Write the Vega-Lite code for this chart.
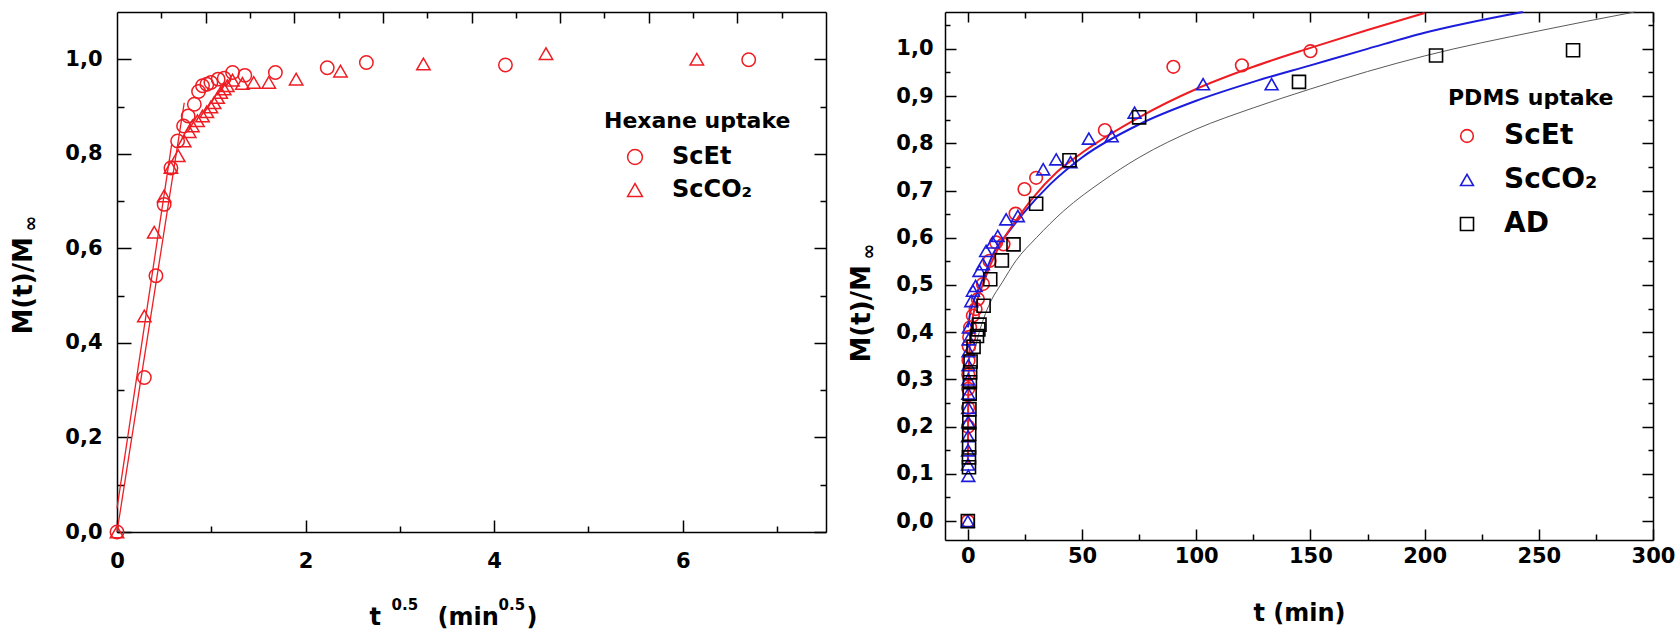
{
  "$schema": "https://vega.github.io/schema/vega-lite/v6.json",
  "background": "white",
  "padding": {"left": 10, "top": 8, "right": 0, "bottom": 0},
  "spacing": 21,
  "config": {
    "font": "DejaVu Sans",
    "view": {"stroke": null},
    "axis": {
      "grid": false,
      "labelFont": "DejaVu Sans", "labelFontWeight": "bold", "labelFontSize": 21, "labelColor": "#000",
      "titleFont": "DejaVu Sans", "titleFontWeight": "bold", "titleFontSize": 23, "titleColor": "#000",
      "tickColor": "#000", "tickWidth": 1.5, "domainColor": "#000", "domainWidth": 1.5,
      "labelOverlap": false, "labelFlush": false, "labelBound": false
    },
    "legend": {
      "titleFont": "DejaVu Sans", "titleFontWeight": "bold", "titleColor": "#000", "titleLimit": 500,
      "labelFont": "DejaVu Sans", "labelFontWeight": "bold", "labelColor": "#000", "labelLimit": 300,
      "padding": 0
    }
  },
  "datasets": {
    "hexPts": [
      {"x": 0, "y": 0, "series": "ScEt"},
      {"x": 0.29, "y": 0.327, "series": "ScEt"},
      {"x": 0.413, "y": 0.542, "series": "ScEt"},
      {"x": 0.5, "y": 0.693, "series": "ScEt"},
      {"x": 0.572, "y": 0.77, "series": "ScEt"},
      {"x": 0.643, "y": 0.827, "series": "ScEt"},
      {"x": 0.706, "y": 0.859, "series": "ScEt"},
      {"x": 0.755, "y": 0.88, "series": "ScEt"},
      {"x": 0.82, "y": 0.905, "series": "ScEt"},
      {"x": 0.865, "y": 0.932, "series": "ScEt"},
      {"x": 0.907, "y": 0.944, "series": "ScEt"},
      {"x": 0.953, "y": 0.947, "series": "ScEt"},
      {"x": 0.996, "y": 0.951, "series": "ScEt"},
      {"x": 1.073, "y": 0.958, "series": "ScEt"},
      {"x": 1.137, "y": 0.96, "series": "ScEt"},
      {"x": 1.226, "y": 0.972, "series": "ScEt"},
      {"x": 1.356, "y": 0.966, "series": "ScEt"},
      {"x": 1.68, "y": 0.972, "series": "ScEt"},
      {"x": 2.23, "y": 0.982, "series": "ScEt"},
      {"x": 2.645, "y": 0.993, "series": "ScEt"},
      {"x": 4.12, "y": 0.988, "series": "ScEt"},
      {"x": 6.7, "y": 0.999, "series": "ScEt"},
      {"x": 0, "y": 0, "series": "ScCO₂"},
      {"x": 0.29, "y": 0.457, "series": "ScCO₂"},
      {"x": 0.395, "y": 0.634, "series": "ScCO₂"},
      {"x": 0.5, "y": 0.711, "series": "ScCO₂"},
      {"x": 0.572, "y": 0.771, "series": "ScCO₂"},
      {"x": 0.65, "y": 0.796, "series": "ScCO₂"},
      {"x": 0.713, "y": 0.827, "series": "ScCO₂"},
      {"x": 0.766, "y": 0.847, "series": "ScCO₂"},
      {"x": 0.8, "y": 0.859, "series": "ScCO₂"},
      {"x": 0.854, "y": 0.87, "series": "ScCO₂"},
      {"x": 0.907, "y": 0.88, "series": "ScCO₂"},
      {"x": 0.953, "y": 0.889, "series": "ScCO₂"},
      {"x": 0.996, "y": 0.899, "series": "ScCO₂"},
      {"x": 1.03, "y": 0.908, "series": "ScCO₂"},
      {"x": 1.067, "y": 0.919, "series": "ScCO₂"},
      {"x": 1.1, "y": 0.93, "series": "ScCO₂"},
      {"x": 1.137, "y": 0.937, "series": "ScCO₂"},
      {"x": 1.17, "y": 0.944, "series": "ScCO₂"},
      {"x": 1.225, "y": 0.956, "series": "ScCO₂"},
      {"x": 1.33, "y": 0.949, "series": "ScCO₂"},
      {"x": 1.45, "y": 0.951, "series": "ScCO₂"},
      {"x": 1.61, "y": 0.951, "series": "ScCO₂"},
      {"x": 1.9, "y": 0.958, "series": "ScCO₂"},
      {"x": 2.37, "y": 0.975, "series": "ScCO₂"},
      {"x": 3.25, "y": 0.99, "series": "ScCO₂"},
      {"x": 4.55, "y": 1.012, "series": "ScCO₂"},
      {"x": 6.15, "y": 1.0, "series": "ScCO₂"}
    ],
    "hexFit": [
      {"x": 0, "y": 0.0, "series": "ScEt"},
      {"x": 0.713, "y": 0.908, "series": "ScEt"},
      {"x": 0, "y": 0.05, "series": "ScCO₂"},
      {"x": 0.58, "y": 0.82, "series": "ScCO₂"}
    ],
    "pdmsPts": [
      {"t": 0, "y": 0, "series": "ScEt"},
      {"t": 0.1, "y": 0.2, "series": "ScEt"},
      {"t": 0.1, "y": 0.24, "series": "ScEt"},
      {"t": 0.15, "y": 0.28, "series": "ScEt"},
      {"t": 0.2, "y": 0.31, "series": "ScEt"},
      {"t": 0.3, "y": 0.34, "series": "ScEt"},
      {"t": 0.4, "y": 0.37, "series": "ScEt"},
      {"t": 0.6, "y": 0.39, "series": "ScEt"},
      {"t": 1.0, "y": 0.41, "series": "ScEt"},
      {"t": 2.2, "y": 0.435, "series": "ScEt"},
      {"t": 3.4, "y": 0.449, "series": "ScEt"},
      {"t": 4.4, "y": 0.47, "series": "ScEt"},
      {"t": 6.6, "y": 0.502, "series": "ScEt"},
      {"t": 9.5, "y": 0.551, "series": "ScEt"},
      {"t": 12.4, "y": 0.59, "series": "ScEt"},
      {"t": 15.6, "y": 0.586, "series": "ScEt"},
      {"t": 20.9, "y": 0.651, "series": "ScEt"},
      {"t": 24.8, "y": 0.703, "series": "ScEt"},
      {"t": 29.9, "y": 0.727, "series": "ScEt"},
      {"t": 60, "y": 0.828, "series": "ScEt"},
      {"t": 90, "y": 0.962, "series": "ScEt"},
      {"t": 120, "y": 0.965, "series": "ScEt"},
      {"t": 150, "y": 0.995, "series": "ScEt"},
      {"t": 0, "y": 0, "series": "ScCO₂"},
      {"t": 0.2, "y": 0.096, "series": "ScCO₂"},
      {"t": 0.1, "y": 0.12, "series": "ScCO₂"},
      {"t": 0.1, "y": 0.15, "series": "ScCO₂"},
      {"t": 0.1, "y": 0.18, "series": "ScCO₂"},
      {"t": 0.15, "y": 0.21, "series": "ScCO₂"},
      {"t": 0.15, "y": 0.24, "series": "ScCO₂"},
      {"t": 0.2, "y": 0.27, "series": "ScCO₂"},
      {"t": 0.2, "y": 0.3, "series": "ScCO₂"},
      {"t": 0.25, "y": 0.33, "series": "ScCO₂"},
      {"t": 0.3, "y": 0.36, "series": "ScCO₂"},
      {"t": 0.35, "y": 0.385, "series": "ScCO₂"},
      {"t": 0.44, "y": 0.41, "series": "ScCO₂"},
      {"t": 1.5, "y": 0.466, "series": "ScCO₂"},
      {"t": 2.2, "y": 0.488, "series": "ScCO₂"},
      {"t": 3.4, "y": 0.498, "series": "ScCO₂"},
      {"t": 5.1, "y": 0.53, "series": "ScCO₂"},
      {"t": 6.6, "y": 0.544, "series": "ScCO₂"},
      {"t": 8.0, "y": 0.572, "series": "ScCO₂"},
      {"t": 10.9, "y": 0.59, "series": "ScCO₂"},
      {"t": 13.1, "y": 0.604, "series": "ScCO₂"},
      {"t": 16.8, "y": 0.639, "series": "ScCO₂"},
      {"t": 21.9, "y": 0.646, "series": "ScCO₂"},
      {"t": 33, "y": 0.745, "series": "ScCO₂"},
      {"t": 38.7, "y": 0.766, "series": "ScCO₂"},
      {"t": 45, "y": 0.76, "series": "ScCO₂"},
      {"t": 53, "y": 0.81, "series": "ScCO₂"},
      {"t": 63, "y": 0.815, "series": "ScCO₂"},
      {"t": 73, "y": 0.865, "series": "ScCO₂"},
      {"t": 103, "y": 0.925, "series": "ScCO₂"},
      {"t": 133, "y": 0.925, "series": "ScCO₂"},
      {"t": 0, "y": 0, "series": "AD"},
      {"t": 0.5, "y": 0.114, "series": "AD"},
      {"t": 0.5, "y": 0.135, "series": "AD"},
      {"t": 0.55, "y": 0.156, "series": "AD"},
      {"t": 0.6, "y": 0.185, "series": "AD"},
      {"t": 0.65, "y": 0.209, "series": "AD"},
      {"t": 0.7, "y": 0.237, "series": "AD"},
      {"t": 0.8, "y": 0.27, "series": "AD"},
      {"t": 0.9, "y": 0.294, "series": "AD"},
      {"t": 1.0, "y": 0.315, "series": "AD"},
      {"t": 1.2, "y": 0.338, "series": "AD"},
      {"t": 2.5, "y": 0.369, "series": "AD"},
      {"t": 4.0, "y": 0.392, "series": "AD"},
      {"t": 4.6, "y": 0.406, "series": "AD"},
      {"t": 5.1, "y": 0.416, "series": "AD"},
      {"t": 6.9, "y": 0.456, "series": "AD"},
      {"t": 9.8, "y": 0.512, "series": "AD"},
      {"t": 14.9, "y": 0.552, "series": "AD"},
      {"t": 20.0, "y": 0.586, "series": "AD"},
      {"t": 29.9, "y": 0.672, "series": "AD"},
      {"t": 44.5, "y": 0.764, "series": "AD"},
      {"t": 75, "y": 0.855, "series": "AD"},
      {"t": 145, "y": 0.93, "series": "AD"},
      {"t": 205, "y": 0.986, "series": "AD"},
      {"t": 265, "y": 0.997, "series": "AD"}
    ],
    "pdmsFit": [
      {"t": 0.02, "y": 0.12, "series": "ScEt"},
      {"t": 0.1, "y": 0.22, "series": "ScEt"},
      {"t": 0.3, "y": 0.3, "series": "ScEt"},
      {"t": 0.7, "y": 0.36, "series": "ScEt"},
      {"t": 1.5, "y": 0.41, "series": "ScEt"},
      {"t": 3, "y": 0.45, "series": "ScEt"},
      {"t": 5, "y": 0.48, "series": "ScEt"},
      {"t": 8, "y": 0.52, "series": "ScEt"},
      {"t": 12, "y": 0.565, "series": "ScEt"},
      {"t": 16, "y": 0.6, "series": "ScEt"},
      {"t": 21, "y": 0.636, "series": "ScEt"},
      {"t": 28.6, "y": 0.685, "series": "ScEt"},
      {"t": 38.8, "y": 0.738, "series": "ScEt"},
      {"t": 50, "y": 0.78, "series": "ScEt"},
      {"t": 75, "y": 0.855, "series": "ScEt"},
      {"t": 100, "y": 0.915, "series": "ScEt"},
      {"t": 125, "y": 0.962, "series": "ScEt"},
      {"t": 150, "y": 1.002, "series": "ScEt"},
      {"t": 175, "y": 1.04, "series": "ScEt"},
      {"t": 200, "y": 1.076, "series": "ScEt"},
      {"t": 0.05, "y": 0.41, "series": "ScCO₂"},
      {"t": 1, "y": 0.44, "series": "ScCO₂"},
      {"t": 2.5, "y": 0.465, "series": "ScCO₂"},
      {"t": 5, "y": 0.495, "series": "ScCO₂"},
      {"t": 8, "y": 0.53, "series": "ScCO₂"},
      {"t": 11, "y": 0.565, "series": "ScCO₂"},
      {"t": 17, "y": 0.607, "series": "ScCO₂"},
      {"t": 24, "y": 0.65, "series": "ScCO₂"},
      {"t": 36, "y": 0.713, "series": "ScCO₂"},
      {"t": 50, "y": 0.77, "series": "ScCO₂"},
      {"t": 75, "y": 0.84, "series": "ScCO₂"},
      {"t": 100, "y": 0.89, "series": "ScCO₂"},
      {"t": 125, "y": 0.93, "series": "ScCO₂"},
      {"t": 150, "y": 0.965, "series": "ScCO₂"},
      {"t": 175, "y": 1.0, "series": "ScCO₂"},
      {"t": 200, "y": 1.034, "series": "ScCO₂"},
      {"t": 243, "y": 1.078, "series": "ScCO₂"},
      {"t": 3, "y": 0.36, "series": "AD"},
      {"t": 5, "y": 0.4, "series": "AD"},
      {"t": 7, "y": 0.43, "series": "AD"},
      {"t": 10, "y": 0.465, "series": "AD"},
      {"t": 15, "y": 0.505, "series": "AD"},
      {"t": 21, "y": 0.551, "series": "AD"},
      {"t": 30, "y": 0.6, "series": "AD"},
      {"t": 42, "y": 0.657, "series": "AD"},
      {"t": 59, "y": 0.72, "series": "AD"},
      {"t": 75, "y": 0.77, "series": "AD"},
      {"t": 100, "y": 0.83, "series": "AD"},
      {"t": 125, "y": 0.875, "series": "AD"},
      {"t": 150, "y": 0.915, "series": "AD"},
      {"t": 175, "y": 0.952, "series": "AD"},
      {"t": 200, "y": 0.985, "series": "AD"},
      {"t": 250, "y": 1.038, "series": "AD"},
      {"t": 292, "y": 1.078, "series": "AD"}
    ]
  },
  "resolve": {
    "scale": {"shape": "independent", "color": "independent", "size": "independent"},
    "legend": {"shape": "independent", "color": "independent", "size": "independent"}
  },
  "hconcat": [
    {
      "width": 709,
      "height": 520,
      "resolve": {"axis": {"x": "independent", "y": "independent"}},
      "layer": [
        {
          "data": {"name": "hexFit"},
          "transform": [{"filter": "datum.series == 'ScEt'"}],
          "mark": {"type": "line", "color": "#ee1d23", "strokeWidth": 1.3},
          "encoding": {
            "x": {"field": "x", "type": "quantitative", "scale": {"domain": [0, 7.52], "nice": false, "zero": false},
              "axis": {"orient": "bottom", "values": [1, 3, 5, 7], "tickSize": -6, "labels": false, "domain": false,
                "title": "(min", "titleX": 320, "titleY": 85, "titleAlign": "left", "titleBaseline": "middle", "titleFontSize": 24}},
            "y": {"field": "y", "type": "quantitative", "scale": {"domain": [0, 1.1], "nice": false, "zero": false},
              "axis": {"orient": "left", "values": [0.1, 0.3, 0.5, 0.7, 0.9], "tickSize": -7, "labels": false, "domain": false,
                "title": "∞", "titleX": -87, "titleY": 219, "titleAlign": "left", "titleBaseline": "middle", "titleFontSize": 19}}
          }
        },
        {
          "data": {"name": "hexFit"},
          "transform": [{"filter": "datum.series == 'ScCO₂'"}],
          "mark": {"type": "line", "color": "#ee1d23", "strokeWidth": 1.3},
          "encoding": {
            "x": {"field": "x", "type": "quantitative", "scale": {"domain": [0, 7.52], "nice": false, "zero": false},
              "axis": {"orient": "top", "values": [0.94, 1.88, 2.82, 3.76, 4.7, 5.64, 6.58], "tickSize": -11, "labels": false, "domain": true,
                "title": ")", "titleX": 409, "titleY": 605, "titleAlign": "left", "titleBaseline": "middle", "titleFontSize": 24}},
            "y": {"field": "y", "type": "quantitative", "scale": {"domain": [0, 1.1], "nice": false, "zero": false},
              "axis": {"orient": "right", "values": [0, 0.2, 0.4, 0.6, 0.8, 1.0], "tickSize": -12, "labels": false, "domain": true, "title": null}}
          }
        },
        {
          "data": {"name": "hexPts"},
          "mark": {"type": "point", "opacity": 0},
          "encoding": {
            "x": {"field": "x", "type": "quantitative", "scale": {"domain": [0, 7.52], "nice": false, "zero": false},
              "axis": {"orient": "top", "values": [0.47, 1.41, 2.35, 3.29, 4.23, 5.17, 6.11, 7.05], "tickSize": -6, "labels": false, "domain": false,
                "title": "0.5", "titleX": 274, "titleY": 592, "titleAlign": "left", "titleBaseline": "middle", "titleFontSize": 15}},
            "y": {"field": "y", "type": "quantitative", "scale": {"domain": [0, 1.1], "nice": false, "zero": false},
              "axis": {"orient": "right", "values": [0.1, 0.3, 0.5, 0.7, 0.9], "tickSize": -6, "labels": false, "domain": false, "title": null}}
          }
        },
        {
          "data": {"name": "hexPts"},
          "mark": {"type": "point", "opacity": 0},
          "encoding": {
            "x": {"field": "x", "type": "quantitative", "scale": {"domain": [0, 7.52], "nice": false, "zero": false},
              "axis": {"orient": "bottom", "ticks": false, "labels": false, "domain": false,
                "title": "0.5", "titleX": 381, "titleY": 72, "titleAlign": "left", "titleBaseline": "middle", "titleFontSize": 15}},
            "y": {"field": "y", "type": "quantitative", "scale": {"domain": [0, 1.1], "nice": false, "zero": false},
              "axis": null}
          }
        },
        {
          "data": {"name": "hexPts"},
          "mark": {"type": "point", "filled": false, "color": "#ee1d23", "strokeWidth": 1.5, "size": 180, "opacity": 1},
          "encoding": {
            "x": {"field": "x", "type": "quantitative", "scale": {"domain": [0, 7.52], "nice": false, "zero": false},
              "axis": {"orient": "bottom", "values": [0, 2, 4, 6], "format": "d", "tickSize": -12, "labelPadding": 30, "domain": true,
                "title": "t", "titleX": 252, "titleY": 85, "titleAlign": "left", "titleBaseline": "middle", "titleFontSize": 24}},
            "y": {"field": "y", "type": "quantitative", "scale": {"domain": [0, 1.1], "nice": false, "zero": false},
              "axis": {"orient": "left", "values": [0, 0.2, 0.4, 0.6, 0.8, 1.0], "tickSize": -14, "labelPadding": 29, "domain": true,
                "labelExpr": "replace(format(datum.value, '.1f'), '.', ',')",
                "title": "M(t)/M", "titleX": -94, "titleY": 322, "titleAlign": "left", "titleBaseline": "middle", "titleFontSize": 26}},
            "shape": {"field": "series", "type": "nominal",
              "scale": {"domain": ["ScEt", "ScCO₂"], "range": ["circle", "triangle-up"]},
              "legend": {"orient": "none", "legendX": 487, "legendY": 99, "title": "Hexane uptake",
                "titleFontSize": 22, "labelFontSize": 24, "symbolSize": 220, "symbolStrokeWidth": 1.5,
                "symbolStrokeColor": "#ee1d23", "symbolFillColor": "transparent",
                "symbolOffset": 19, "labelOffset": 25, "rowPadding": 9, "titlePadding": 12}}
          }
        }
      ]
    },
    {
      "width": 708,
      "height": 528,
      "resolve": {"axis": {"x": "independent", "y": "independent"}},
      "layer": [
        {
          "data": {"name": "pdmsFit"},
          "transform": [{"filter": "datum.series == 'AD'"}],
          "mark": {"type": "line", "color": "#5a5a5a", "strokeWidth": 1, "interpolate": "monotone"},
          "encoding": {
            "x": {"field": "t", "type": "quantitative", "scale": {"domain": [-10, 300], "nice": false, "zero": false},
              "axis": {"orient": "bottom", "values": [25, 75, 125, 175, 225, 275], "tickSize": -6, "labels": false, "domain": false, "title": null}},
            "y": {"field": "y", "type": "quantitative", "scale": {"domain": [-0.04, 1.078], "nice": false, "zero": false},
              "axis": {"orient": "left", "values": [0.05, 0.15, 0.25, 0.35, 0.45, 0.55, 0.65, 0.75, 0.85, 0.95, 1.05], "tickSize": -5, "labels": false, "domain": false,
                "title": "∞", "titleX": -77, "titleY": 247, "titleAlign": "left", "titleBaseline": "middle", "titleFontSize": 19}}
          }
        },
        {
          "data": {"name": "pdmsFit"},
          "transform": [{"filter": "datum.series == 'ScCO₂'"}],
          "mark": {"type": "line", "color": "#1c1cdc", "strokeWidth": 2, "interpolate": "monotone"},
          "encoding": {
            "x": {"field": "t", "type": "quantitative", "scale": {"domain": [-10, 300], "nice": false, "zero": false},
              "axis": {"orient": "top", "values": [0, 50, 100, 150, 200, 250, 300], "tickSize": -10, "labels": false, "domain": true, "title": null}},
            "y": {"field": "y", "type": "quantitative", "scale": {"domain": [-0.04, 1.078], "nice": false, "zero": false},
              "axis": {"orient": "right", "values": [0, 0.1, 0.2, 0.3, 0.4, 0.5, 0.6, 0.7, 0.8, 0.9, 1.0], "tickSize": -11, "labels": false, "domain": true, "title": null}}
          }
        },
        {
          "data": {"name": "pdmsFit"},
          "transform": [{"filter": "datum.series == 'ScEt'"}],
          "mark": {"type": "line", "color": "#ee1d23", "strokeWidth": 2, "interpolate": "monotone", "clip": true},
          "encoding": {
            "x": {"field": "t", "type": "quantitative", "scale": {"domain": [-10, 300], "nice": false, "zero": false},
              "axis": {"orient": "top", "values": [25, 75, 125, 175, 225, 275], "tickSize": -6, "labels": false, "domain": false, "title": null}},
            "y": {"field": "y", "type": "quantitative", "scale": {"domain": [-0.04, 1.078], "nice": false, "zero": false},
              "axis": {"orient": "right", "values": [0.05, 0.15, 0.25, 0.35, 0.45, 0.55, 0.65, 0.75, 0.85, 0.95, 1.05], "tickSize": -5, "labels": false, "domain": false, "title": null}}
          }
        },
        {
          "data": {"name": "pdmsPts"},
          "mark": {"type": "point", "filled": false, "strokeWidth": 1.6, "opacity": 1},
          "encoding": {
            "x": {"field": "t", "type": "quantitative", "scale": {"domain": [-10, 300], "nice": false, "zero": false},
              "axis": {"orient": "bottom", "values": [0, 50, 100, 150, 200, 250, 300], "format": "d", "tickSize": -11, "labelPadding": 16, "domain": true,
                "title": "t (min)", "titleY": 73, "titleBaseline": "middle", "titleFontSize": 24}},
            "y": {"field": "y", "type": "quantitative", "scale": {"domain": [-0.04, 1.078], "nice": false, "zero": false},
              "axis": {"orient": "left", "values": [0, 0.1, 0.2, 0.3, 0.4, 0.5, 0.6, 0.7, 0.8, 0.9, 1.0], "tickSize": -11, "labelPadding": 23, "domain": true,
                "labelExpr": "replace(format(datum.value, '.1f'), '.', ',')",
                "title": "M(t)/M", "titleX": -84, "titleY": 350, "titleAlign": "left", "titleBaseline": "middle", "titleFontSize": 26}},
            "color": {"field": "series", "type": "nominal",
              "scale": {"domain": ["ScEt", "ScCO₂", "AD"], "range": ["#ee1d23", "#1c1cdc", "#000000"]},
              "legend": {"orient": "none", "legendX": 503, "legendY": 76, "title": "PDMS uptake",
                "titleFontSize": 22, "labelFontSize": 28, "symbolSize": 150, "symbolStrokeWidth": 1.6,
                "symbolOffset": 5, "labelOffset": 23, "rowPadding": 16, "titlePadding": 12}},
            "shape": {"field": "series", "type": "nominal",
              "scale": {"domain": ["ScEt", "ScCO₂", "AD"], "range": ["circle", "triangle-up", "square"]}},
            "size": {"field": "series", "type": "nominal",
              "scale": {"domain": ["ScEt", "ScCO₂", "AD"], "range": [160, 170, 100]}, "legend": null}
          }
        }
      ]
    }
  ]
}
